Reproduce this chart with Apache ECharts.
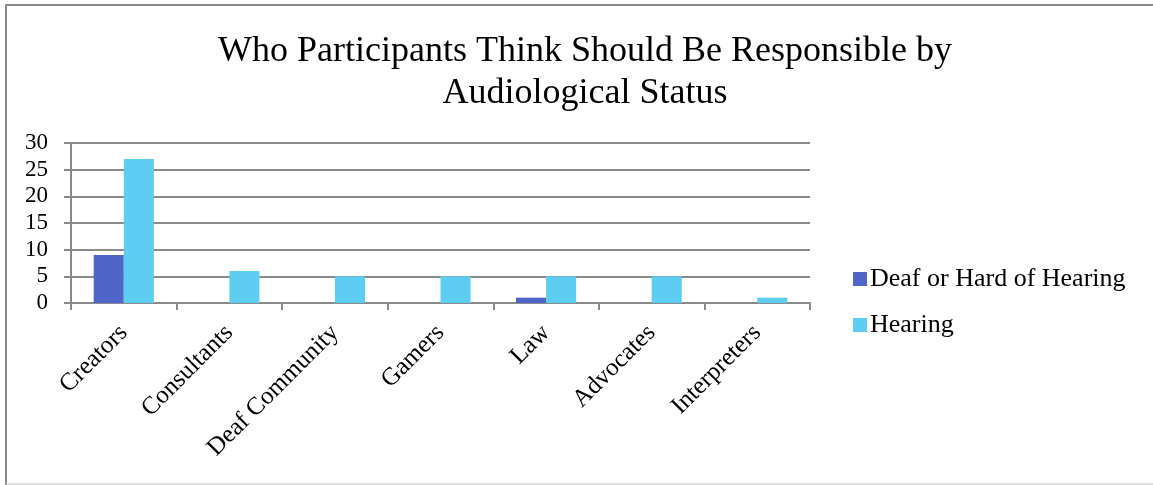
<!DOCTYPE html>
<html>
<head>
<meta charset="utf-8">
<title>Who Participants Think Should Be Responsible by Audiological Status</title>
<script src="https://cdn.jsdelivr.net/npm/echarts@6/dist/echarts.min.js"></script>
<style>
  html, body { margin: 0; padding: 0; background: #ffffff; }
  #chart { width: 1153px; height: 485px; }
</style>
</head>
<body>
<div id="chart"></div>
<script>
// Categories of who should be responsible
const categories = ['Creators', 'Consultants', 'Deaf Community', 'Gamers', 'Law', 'Advocates', 'Interpreters'];

// Responses per group
const deafHardOfHearing = [9, 0, 0, 0, 1, 0, 0];
const hearing = [27, 6, 5, 5, 5, 5, 1];

const seriesNames = ['Deaf or Hard of Hearing', 'Hearing'];
const yTicks = { min: 0, max: 30, interval: 5 };

const FONT = '"Liberation Serif", "DejaVu Serif", serif';
const GRID_GREY = '#8a8a8a';

const chart = echarts.init(document.getElementById('chart'), null, { renderer: 'canvas' });

chart.setOption({
  backgroundColor: '#ffffff',
  animation: false,
  title: {
    text: 'Who Participants Think Should Be Responsible by\nAudiological Status',
    left: 580,
    top: 26,
    textAlign: 'center',
    textStyle: {
      fontFamily: FONT,
      fontSize: 36,
      fontWeight: 'normal',
      color: '#000000',
      lineHeight: 42
    }
  },
  legend: {
    orient: 'vertical',
    left: 853,
    top: 266,
    padding: 0,
    itemWidth: 14,
    itemHeight: 14,
    itemGap: 20,
    icon: 'rect',
    textStyle: { fontFamily: FONT, fontSize: 26, color: '#000000', padding: [0, 0, 0, -2] },
    data: seriesNames
  },
  grid: { left: 71, right: 343, top: 143, bottom: 182, containLabel: false },
  xAxis: {
    type: 'category',
    data: categories,
    axisLine: { show: true, lineStyle: { color: GRID_GREY, width: 2 } },
    axisTick: { show: true, length: 7, alignWithLabel: false, lineStyle: { color: GRID_GREY, width: 2 } },
    axisLabel: {
      rotate: 45,
      interval: 0,
      margin: 26,
      fontFamily: FONT,
      fontSize: 25,
      color: '#000000'
    }
  },
  yAxis: {
    type: 'value',
    min: yTicks.min,
    max: yTicks.max,
    interval: yTicks.interval,
    axisLine: { show: true, lineStyle: { color: GRID_GREY, width: 2 } },
    axisTick: { show: true, length: 7, lineStyle: { color: GRID_GREY, width: 2 } },
    splitLine: { show: true, lineStyle: { color: GRID_GREY, width: 2 } },
    axisLabel: { margin: 23, fontFamily: FONT, fontSize: 23, color: '#000000' }
  },
  series: [
    {
      name: seriesNames[0],
      type: 'bar',
      data: deafHardOfHearing,
      barGap: '0%',
      barCategoryGap: '43%',
      itemStyle: { color: '#4f66c8' }
    },
    {
      name: seriesNames[1],
      type: 'bar',
      data: hearing,
      itemStyle: { color: '#5ecdf2' }
    }
  ],
  graphic: [
    { type: 'line', shape: { x1: 5, y1: 5, x2: 1153, y2: 5 }, style: { stroke: '#8a8a8a', lineWidth: 2 } },
    { type: 'line', shape: { x1: 6, y1: 4, x2: 6, y2: 485 }, style: { stroke: '#8a8a8a', lineWidth: 2 } },
    { type: 'line', shape: { x1: 6, y1: 484, x2: 1153, y2: 484 }, style: { stroke: '#d4d4d4', lineWidth: 1.5 } }
  ]
});
</script>
</body>
</html>
